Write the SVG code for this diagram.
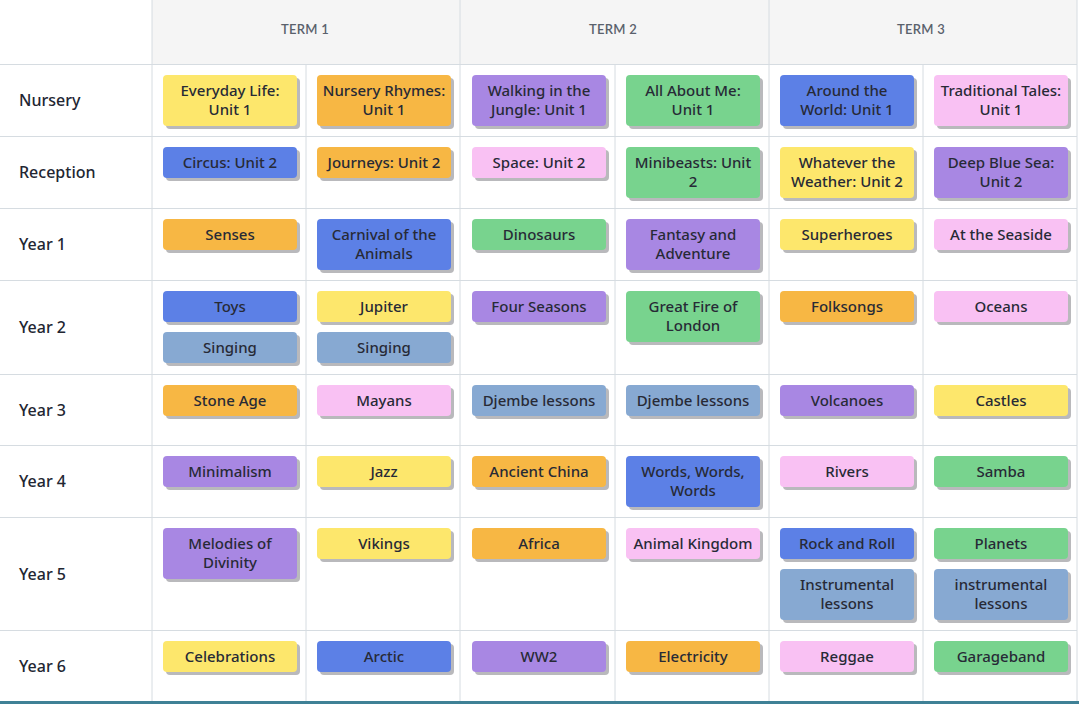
<svg xmlns="http://www.w3.org/2000/svg" width="1079" height="704" viewBox="0 0 1079 704">
<style>
.grid{stroke:#d6dce1;stroke-width:1;fill:none}
.hdr{font-family:Lato,"Noto Sans",sans-serif;font-size:13px;fill:#5a616c;text-anchor:middle;letter-spacing:0.3px;font-weight:600}
.row{font-family:"Noto Sans",Lato,sans-serif;font-size:16px;fill:#222632;font-weight:500}
.t{font-family:"Noto Sans",Lato,sans-serif;font-size:15px;fill:#272a36;text-anchor:middle;font-weight:500}
.sh{fill:#b9b9bc}
.y{fill:#fde76c}.o{fill:#f7b744}.b{fill:#5c80e6}.s{fill:#87a9d2}.g{fill:#78d38e}.p{fill:#f9c1f3}.u{fill:#a887e3}
</style>
<defs>
<rect id="sh1" class="sh" width="134" height="31" rx="4"/>
<rect id="sh2" class="sh" width="134" height="51" rx="4"/>
</defs>
<rect x="0" y="0" width="1079" height="704" fill="#ffffff"/>
<rect x="152" y="0" width="925" height="64" fill="#f5f5f5"/>
<g id="grid">
<line class="grid" x1="152" y1="0" x2="152" y2="702"/>
<line class="grid" x1="460" y1="0" x2="460" y2="702"/>
<line class="grid" x1="769" y1="0" x2="769" y2="702"/>
<line class="grid" x1="306" y1="64" x2="306" y2="702"/>
<line class="grid" x1="615" y1="64" x2="615" y2="702"/>
<line class="grid" x1="923" y1="64" x2="923" y2="702"/>
<line class="grid" x1="1077" y1="0" x2="1077" y2="702"/>
<line class="grid" x1="0" y1="64.5" x2="1077" y2="64.5"/>
<line class="grid" x1="0" y1="136.5" x2="1077" y2="136.5"/>
<line class="grid" x1="0" y1="208.5" x2="1077" y2="208.5"/>
<line class="grid" x1="0" y1="280.5" x2="1077" y2="280.5"/>
<line class="grid" x1="0" y1="374.5" x2="1077" y2="374.5"/>
<line class="grid" x1="0" y1="445.5" x2="1077" y2="445.5"/>
<line class="grid" x1="0" y1="517.5" x2="1077" y2="517.5"/>
<line class="grid" x1="0" y1="630.5" x2="1077" y2="630.5"/>
<rect x="0" y="701" width="1079" height="3" fill="#3f8196"/>
</g>
<g id="headers">
<text class="hdr" x="305" y="34">TERM 1</text>
<text class="hdr" x="613" y="34">TERM 2</text>
<text class="hdr" x="921" y="34">TERM 3</text>
</g>
<g id="rowlabels">
<text class="row" x="19" y="106">Nursery</text>
<text class="row" x="19" y="178">Reception</text>
<text class="row" x="19" y="250">Year 1</text>
<text class="row" x="19" y="333">Year 2</text>
<text class="row" x="19" y="416">Year 3</text>
<text class="row" x="19" y="487">Year 4</text>
<text class="row" x="19" y="580">Year 5</text>
<text class="row" x="19" y="672">Year 6</text>
</g>
<g id="nursery">
<g id="n1"><use href="#sh2" x="166" y="78"/><rect class="y" x="163" y="75" width="134" height="51" rx="4"/><text class="t" x="230" y="96">Everyday Life:</text><text class="t" x="230" y="115">Unit 1</text></g>
<g id="n2"><use href="#sh2" x="320" y="78"/><rect class="o" x="317" y="75" width="134" height="51" rx="4"/><text class="t" x="384" y="96">Nursery Rhymes:</text><text class="t" x="384" y="115">Unit 1</text></g>
<g id="n3"><use href="#sh2" x="475" y="78"/><rect class="u" x="472" y="75" width="134" height="51" rx="4"/><text class="t" x="539" y="96">Walking in the</text><text class="t" x="539" y="115">Jungle: Unit 1</text></g>
<g id="n4"><use href="#sh2" x="629" y="78"/><rect class="g" x="626" y="75" width="134" height="51" rx="4"/><text class="t" x="693" y="96">All About Me:</text><text class="t" x="693" y="115">Unit 1</text></g>
<g id="n5"><use href="#sh2" x="783" y="78"/><rect class="b" x="780" y="75" width="134" height="51" rx="4"/><text class="t" x="847" y="96">Around the</text><text class="t" x="847" y="115">World: Unit 1</text></g>
<g id="n6"><use href="#sh2" x="937" y="78"/><rect class="p" x="934" y="75" width="134" height="51" rx="4"/><text class="t" x="1001" y="96">Traditional Tales:</text><text class="t" x="1001" y="115">Unit 1</text></g>
</g>
<g id="reception">
<g id="r1"><use href="#sh1" x="166" y="150"/><rect class="b" x="163" y="147" width="134" height="31" rx="4"/><text class="t" x="230" y="168">Circus: Unit 2</text></g>
<g id="r2"><use href="#sh1" x="320" y="150"/><rect class="o" x="317" y="147" width="134" height="31" rx="4"/><text class="t" x="384" y="168">Journeys: Unit 2</text></g>
<g id="r3"><use href="#sh1" x="475" y="150"/><rect class="p" x="472" y="147" width="134" height="31" rx="4"/><text class="t" x="539" y="168">Space: Unit 2</text></g>
<g id="r4"><use href="#sh2" x="629" y="150"/><rect class="g" x="626" y="147" width="134" height="51" rx="4"/><text class="t" x="693" y="168">Minibeasts: Unit</text><text class="t" x="693" y="187">2</text></g>
<g id="r5"><use href="#sh2" x="783" y="150"/><rect class="y" x="780" y="147" width="134" height="51" rx="4"/><text class="t" x="847" y="168">Whatever the</text><text class="t" x="847" y="187">Weather: Unit 2</text></g>
<g id="r6"><use href="#sh2" x="937" y="150"/><rect class="u" x="934" y="147" width="134" height="51" rx="4"/><text class="t" x="1001" y="168">Deep Blue Sea:</text><text class="t" x="1001" y="187">Unit 2</text></g>
</g>
<g id="year1">
<g id="y1a"><use href="#sh1" x="166" y="222"/><rect class="o" x="163" y="219" width="134" height="31" rx="4"/><text class="t" x="230" y="240">Senses</text></g>
<g id="y1b"><use href="#sh2" x="320" y="222"/><rect class="b" x="317" y="219" width="134" height="51" rx="4"/><text class="t" x="384" y="240">Carnival of the</text><text class="t" x="384" y="259">Animals</text></g>
<g id="y1c"><use href="#sh1" x="475" y="222"/><rect class="g" x="472" y="219" width="134" height="31" rx="4"/><text class="t" x="539" y="240">Dinosaurs</text></g>
<g id="y1d"><use href="#sh2" x="629" y="222"/><rect class="u" x="626" y="219" width="134" height="51" rx="4"/><text class="t" x="693" y="240">Fantasy and</text><text class="t" x="693" y="259">Adventure</text></g>
<g id="y1e"><use href="#sh1" x="783" y="222"/><rect class="y" x="780" y="219" width="134" height="31" rx="4"/><text class="t" x="847" y="240">Superheroes</text></g>
<g id="y1f"><use href="#sh1" x="937" y="222"/><rect class="p" x="934" y="219" width="134" height="31" rx="4"/><text class="t" x="1001" y="240">At the Seaside</text></g>
</g>
<g id="year2">
<g id="y2a"><use href="#sh1" x="166" y="294"/><rect class="b" x="163" y="291" width="134" height="31" rx="4"/><text class="t" x="230" y="312">Toys</text></g>
<g id="y2a2"><use href="#sh1" x="166" y="335"/><rect class="s" x="163" y="332" width="134" height="31" rx="4"/><text class="t" x="230" y="353">Singing</text></g>
<g id="y2b"><use href="#sh1" x="320" y="294"/><rect class="y" x="317" y="291" width="134" height="31" rx="4"/><text class="t" x="384" y="312">Jupiter</text></g>
<g id="y2b2"><use href="#sh1" x="320" y="335"/><rect class="s" x="317" y="332" width="134" height="31" rx="4"/><text class="t" x="384" y="353">Singing</text></g>
<g id="y2c"><use href="#sh1" x="475" y="294"/><rect class="u" x="472" y="291" width="134" height="31" rx="4"/><text class="t" x="539" y="312">Four Seasons</text></g>
<g id="y2d"><use href="#sh2" x="629" y="294"/><rect class="g" x="626" y="291" width="134" height="51" rx="4"/><text class="t" x="693" y="312">Great Fire of</text><text class="t" x="693" y="331">London</text></g>
<g id="y2e"><use href="#sh1" x="783" y="294"/><rect class="o" x="780" y="291" width="134" height="31" rx="4"/><text class="t" x="847" y="312">Folksongs</text></g>
<g id="y2f"><use href="#sh1" x="937" y="294"/><rect class="p" x="934" y="291" width="134" height="31" rx="4"/><text class="t" x="1001" y="312">Oceans</text></g>
</g>
<g id="year3">
<g id="y3a"><use href="#sh1" x="166" y="388"/><rect class="o" x="163" y="385" width="134" height="31" rx="4"/><text class="t" x="230" y="406">Stone Age</text></g>
<g id="y3b"><use href="#sh1" x="320" y="388"/><rect class="p" x="317" y="385" width="134" height="31" rx="4"/><text class="t" x="384" y="406">Mayans</text></g>
<g id="y3c"><use href="#sh1" x="475" y="388"/><rect class="s" x="472" y="385" width="134" height="31" rx="4"/><text class="t" x="539" y="406">Djembe lessons</text></g>
<g id="y3d"><use href="#sh1" x="629" y="388"/><rect class="s" x="626" y="385" width="134" height="31" rx="4"/><text class="t" x="693" y="406">Djembe lessons</text></g>
<g id="y3e"><use href="#sh1" x="783" y="388"/><rect class="u" x="780" y="385" width="134" height="31" rx="4"/><text class="t" x="847" y="406">Volcanoes</text></g>
<g id="y3f"><use href="#sh1" x="937" y="388"/><rect class="y" x="934" y="385" width="134" height="31" rx="4"/><text class="t" x="1001" y="406">Castles</text></g>
</g>
<g id="year4">
<g id="y4a"><use href="#sh1" x="166" y="459"/><rect class="u" x="163" y="456" width="134" height="31" rx="4"/><text class="t" x="230" y="477">Minimalism</text></g>
<g id="y4b"><use href="#sh1" x="320" y="459"/><rect class="y" x="317" y="456" width="134" height="31" rx="4"/><text class="t" x="384" y="477">Jazz</text></g>
<g id="y4c"><use href="#sh1" x="475" y="459"/><rect class="o" x="472" y="456" width="134" height="31" rx="4"/><text class="t" x="539" y="477">Ancient China</text></g>
<g id="y4d"><use href="#sh2" x="629" y="459"/><rect class="b" x="626" y="456" width="134" height="51" rx="4"/><text class="t" x="693" y="477">Words, Words,</text><text class="t" x="693" y="496">Words</text></g>
<g id="y4e"><use href="#sh1" x="783" y="459"/><rect class="p" x="780" y="456" width="134" height="31" rx="4"/><text class="t" x="847" y="477">Rivers</text></g>
<g id="y4f"><use href="#sh1" x="937" y="459"/><rect class="g" x="934" y="456" width="134" height="31" rx="4"/><text class="t" x="1001" y="477">Samba</text></g>
</g>
<g id="year5">
<g id="y5a"><use href="#sh2" x="166" y="531"/><rect class="u" x="163" y="528" width="134" height="51" rx="4"/><text class="t" x="230" y="549">Melodies of</text><text class="t" x="230" y="568">Divinity</text></g>
<g id="y5b"><use href="#sh1" x="320" y="531"/><rect class="y" x="317" y="528" width="134" height="31" rx="4"/><text class="t" x="384" y="549">Vikings</text></g>
<g id="y5c"><use href="#sh1" x="475" y="531"/><rect class="o" x="472" y="528" width="134" height="31" rx="4"/><text class="t" x="539" y="549">Africa</text></g>
<g id="y5d"><use href="#sh1" x="629" y="531"/><rect class="p" x="626" y="528" width="134" height="31" rx="4"/><text class="t" x="693" y="549">Animal Kingdom</text></g>
<g id="y5e"><use href="#sh1" x="783" y="531"/><rect class="b" x="780" y="528" width="134" height="31" rx="4"/><text class="t" x="847" y="549">Rock and Roll</text></g>
<g id="y5e2"><use href="#sh2" x="783" y="572"/><rect class="s" x="780" y="569" width="134" height="51" rx="4"/><text class="t" x="847" y="590">Instrumental</text><text class="t" x="847" y="609">lessons</text></g>
<g id="y5f"><use href="#sh1" x="937" y="531"/><rect class="g" x="934" y="528" width="134" height="31" rx="4"/><text class="t" x="1001" y="549">Planets</text></g>
<g id="y5f2"><use href="#sh2" x="937" y="572"/><rect class="s" x="934" y="569" width="134" height="51" rx="4"/><text class="t" x="1001" y="590">instrumental</text><text class="t" x="1001" y="609">lessons</text></g>
</g>
<g id="year6">
<g id="y6a"><use href="#sh1" x="166" y="644"/><rect class="y" x="163" y="641" width="134" height="31" rx="4"/><text class="t" x="230" y="662">Celebrations</text></g>
<g id="y6b"><use href="#sh1" x="320" y="644"/><rect class="b" x="317" y="641" width="134" height="31" rx="4"/><text class="t" x="384" y="662">Arctic</text></g>
<g id="y6c"><use href="#sh1" x="475" y="644"/><rect class="u" x="472" y="641" width="134" height="31" rx="4"/><text class="t" x="539" y="662">WW2</text></g>
<g id="y6d"><use href="#sh1" x="629" y="644"/><rect class="o" x="626" y="641" width="134" height="31" rx="4"/><text class="t" x="693" y="662">Electricity</text></g>
<g id="y6e"><use href="#sh1" x="783" y="644"/><rect class="p" x="780" y="641" width="134" height="31" rx="4"/><text class="t" x="847" y="662">Reggae</text></g>
<g id="y6f"><use href="#sh1" x="937" y="644"/><rect class="g" x="934" y="641" width="134" height="31" rx="4"/><text class="t" x="1001" y="662">Garageband</text></g>
</g>
</svg>
